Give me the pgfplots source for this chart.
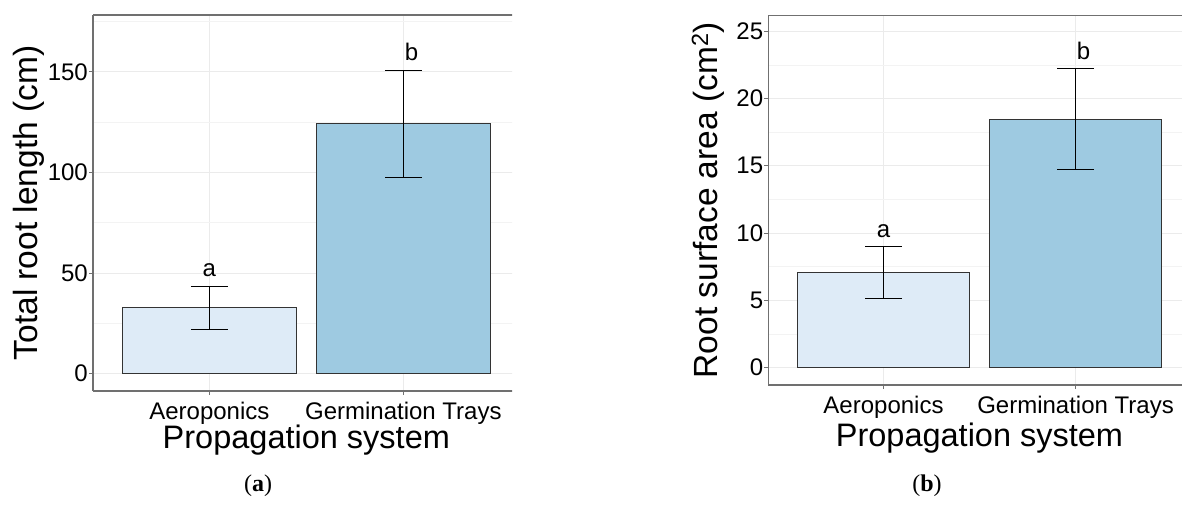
\documentclass[border=0pt]{standalone}
\usepackage{pgfplots}
\pgfplotsset{compat=1.18}
\usepackage{fontspec}
\setmainfont{Liberation Sans}
\newfontfamily\capfont{Liberation Serif}
\definecolor{barA}{HTML}{DEEBF7}
\definecolor{barB}{HTML}{9ECAE1}
\definecolor{gridmaj}{HTML}{EBEBEB}
\definecolor{gridmin}{HTML}{F3F3F3}
\definecolor{axgray}{HTML}{707070}
\definecolor{edge}{HTML}{333333}
\pgfplotsset{
  myaxis/.style={
    scale only axis,
    anchor=south west,
    xmin=0.4, xmax=2.6,
    xtick={1,2}, xticklabels={Aeroponics, Germination Trays},
    axis x line*=box, axis y line*=left,
    x axis line style={-}, y axis line style={-},
    axis line style={axgray, line width=1.2pt},
    xtick pos=bottom, ytick pos=left, tick align=outside,
    major tick length=4pt, minor tick length=0pt,
    every tick/.style={axgray, line width=1.1pt},
    xmajorgrids, ymajorgrids, yminorgrids,
    major grid style={gridmaj, line width=1pt},
    minor grid style={gridmin, line width=0.8pt},
    ticklabel style={font=\fontsize{24}{24}\selectfont, text=black},
    /pgf/number format/assume math mode=true,
    yticklabel style={inner sep=0pt, anchor=east, xshift=-1pt},
    xticklabel style={inner sep=0pt, anchor=base, yshift=-24.2pt},
    ylabel style={font=\fontsize{33.5}{34}\selectfont, anchor=base},
    xlabel style={font=\fontsize{32.5}{33}\selectfont, anchor=base, inner sep=0pt},
    ybar, bar width=0.9, bar shift=0pt,
    error bars/error bar style={black, line width=1.1pt},
    error bars/error mark options={black, line width=1.1pt, mark size=18.5pt, rotate=90},
  },
  barstyle/.style={draw=edge, line width=1pt,
    error bars/y dir=both, error bars/y explicit},
}
\begin{document}
\begin{tikzpicture}[x=1pt,y=1pt]
\useasboundingbox (0,0) rectangle (1182,504);
\begin{scope}
\clip (0,0) rectangle (512,504);
\begin{axis}[myaxis,
  at={(93pt,113pt)}, width=426.7pt, height=376pt,
  ymin=-8.6, ymax=178.3,
  ytick={0,50,100,150}, minor ytick={25,75,125,175},
  xlabel={Propagation system},
  xlabel style={at={(axis description cs:0.5,-0.1540)}},
  ylabel={Total root length (cm)},
  ylabel style={at={(axis description cs:-0.1312,0.5)}},
]
\addplot[fill=barA, barstyle] coordinates {(1,32.8) +- (0,10.75)};
\addplot[fill=barB, barstyle] coordinates {(2,124.3) +- (0,26.6)};
\node[font=\fontsize{24}{24}\selectfont, anchor=base] at (axis cs:1,48.2) {a};
\node[font=\fontsize{24}{24}\selectfont, anchor=base] at (axis cs:2.042,155.5) {b};
\end{axis}
\end{scope}
\begin{axis}[myaxis,
  at={(768.3pt,119pt)}, width=422.4pt, height=369.7pt,
  ymin=-1.29, ymax=26.19,
  ytick={0,5,10,15,20,25}, minor ytick={2.5,7.5,12.5,17.5,22.5},
  xlabel={Propagation system},
  xlabel style={at={(axis description cs:0.5,-0.1650)}},
  ylabel={Root surface area (cm\textsuperscript{2})},
  ylabel style={at={(axis description cs:-0.1214,0.5)}},
]
\addplot[fill=barA, barstyle] coordinates {(1,7.09) +- (0,1.92)};
\addplot[fill=barB, barstyle] coordinates {(2,18.48) +- (0,3.78)};
\node[font=\fontsize{24}{24}\selectfont, anchor=base] at (axis cs:1,9.69) {a};
\node[font=\fontsize{24}{24}\selectfont, anchor=base] at (axis cs:2.042,22.87) {b};
\end{axis}
\node[font=\capfont\fontsize{24}{24}\selectfont, anchor=base] at (258,13) {(\textbf{a})};
\node[font=\capfont\fontsize{24}{24}\selectfont, anchor=base] at (927,13) {(\textbf{b})};
\end{tikzpicture}
\end{document}
